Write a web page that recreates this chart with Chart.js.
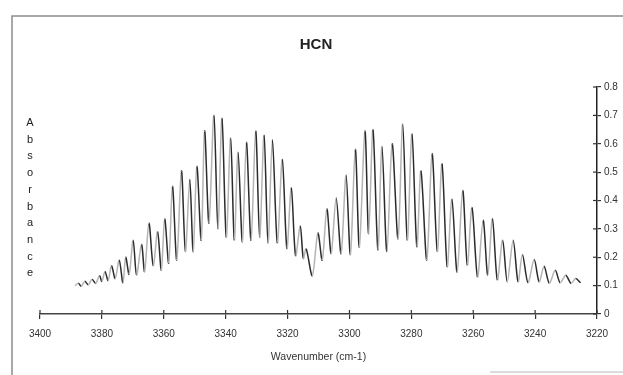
<!DOCTYPE html>
<html>
<head>
<meta charset="utf-8">
<script src="https://cdn.jsdelivr.net/npm/chart.js@4.4.1/dist/chart.umd.min.js"></script>
<style>
  html, body { margin: 0; padding: 0; background: #fff; }
  #wrap { position: relative; width: 623px; height: 375px; }
</style>
</head>
<body>
<div id="wrap"><canvas id="hcn" width="623" height="375"></canvas></div>
<script>
// spectre : pics et creux alternes
const wavenumbers = [
  3388.7, 3387.6, 3386.7, 3385.5, 3384.4, 3383.2, 3382.0, 3380.8, 3380.0, 3379.0,
  3378.0, 3376.9, 3375.7, 3374.4, 3373.2, 3372.3, 3371.2, 3369.9, 3368.8, 3367.2,
  3366.2, 3364.8, 3363.4, 3362.0, 3360.8, 3359.7, 3358.4, 3357.2, 3355.8, 3354.3,
  3353.0, 3351.6, 3350.5, 3349.3, 3347.9, 3346.8, 3345.4, 3343.8, 3342.5, 3341.2,
  3339.8, 3338.4, 3337.2, 3336.0, 3334.6, 3333.3, 3331.8, 3330.3, 3329.0, 3327.6,
  3326.3, 3324.9, 3323.3, 3321.7, 3320.2, 3318.8, 3317.4, 3315.9, 3314.9, 3314.0,
  3312.0, 3310.2, 3308.8, 3307.3, 3305.9, 3304.3, 3302.7, 3301.1, 3299.7, 3298.1,
  3296.8, 3295.0, 3293.8, 3292.4, 3290.8, 3289.5, 3287.9, 3286.2, 3284.3, 3282.8,
  3281.3, 3279.8, 3278.2, 3276.9, 3275.0, 3273.3, 3271.6, 3270.1, 3268.4, 3266.9,
  3265.2, 3263.4, 3261.9, 3260.4, 3258.6, 3256.8, 3255.3, 3253.8, 3252.2, 3250.5,
  3249.0, 3247.1, 3245.5, 3244.1, 3242.3, 3240.3, 3238.7, 3237.1, 3235.4, 3233.5,
  3231.9, 3230.1, 3228.4, 3226.9, 3225.3
];
const absorbance = [
  0.100, 0.108, 0.098, 0.115, 0.103, 0.122, 0.108, 0.135, 0.115, 0.150,
  0.118, 0.170, 0.125, 0.190, 0.110, 0.200, 0.140, 0.260, 0.137, 0.245,
  0.150, 0.320, 0.170, 0.290, 0.155, 0.335, 0.180, 0.450, 0.190, 0.505,
  0.220, 0.475, 0.220, 0.520, 0.260, 0.645, 0.320, 0.700, 0.300, 0.690,
  0.270, 0.620, 0.260, 0.570, 0.255, 0.605, 0.260, 0.645, 0.270, 0.630,
  0.250, 0.615, 0.250, 0.545, 0.230, 0.445, 0.205, 0.310, 0.195, 0.230,
  0.135, 0.285, 0.190, 0.370, 0.213, 0.410, 0.213, 0.490, 0.210, 0.580,
  0.236, 0.645, 0.283, 0.650, 0.225, 0.590, 0.220, 0.600, 0.265, 0.670,
  0.260, 0.635, 0.236, 0.505, 0.190, 0.565, 0.220, 0.530, 0.166, 0.405,
  0.148, 0.435, 0.172, 0.375, 0.130, 0.330, 0.137, 0.336, 0.120, 0.260,
  0.113, 0.260, 0.113, 0.210, 0.110, 0.192, 0.113, 0.168, 0.108, 0.154,
  0.110, 0.137, 0.108, 0.125, 0.110
];
const xTicks = [3400, 3380, 3360, 3340, 3320, 3300, 3280, 3260, 3240, 3220];
const yTicks = [0, 0.1, 0.2, 0.3, 0.4, 0.5, 0.6, 0.7, 0.8];
const lettresY = ['A', 'b', 's', 'o', 'r', 'b', 'a', 'n', 'c', 'e'];
const titre = 'HCN';

const points = wavenumbers.map((w, i) => ({ x: w, y: absorbance[i] }));

const cadre = {
  id: 'cadre',
  beforeDraw(chart) {
    const c = chart.ctx;
    c.save();
    c.strokeStyle = '#8c8c8c';
    c.lineWidth = 1.5;
    c.beginPath();
    c.moveTo(12, 375); c.lineTo(12, 16); c.lineTo(623, 16);
    c.stroke();
    c.strokeStyle = '#d0d0d0';
    c.beginPath();
    c.moveTo(490, 372); c.lineTo(623, 372);
    c.stroke();
    c.restore();
  },
  afterDraw(chart) {
    const c = chart.ctx;
    const sx = chart.scales.x, sy = chart.scales.y;
    c.save();
    c.strokeStyle = '#333';
    c.lineWidth = 1.2;
    xTicks.forEach(v => {
      const px = sx.getPixelForValue(v);
      c.beginPath(); c.moveTo(px, sy.bottom - 4); c.lineTo(px, sy.bottom); c.stroke();
    });
    yTicks.forEach(v => {
      const py = sy.getPixelForValue(v);
      c.beginPath(); c.moveTo(sx.right - 4, py); c.lineTo(sx.right, py); c.stroke();
    });
    c.fillStyle = '#222';
    c.textAlign = 'center';
    c.textBaseline = 'middle';
    c.font = 'bold 15px "Liberation Sans"';
    c.fillText(titre, 316, 45);
    c.font = '11px "Liberation Sans"';
    lettresY.forEach((l, i) => c.fillText(l, 30, 123 + i * 16.7));
    c.restore();
  }
};

new Chart(document.getElementById('hcn').getContext('2d'), {
  type: 'line',
  data: {
    datasets: [{
      label: 'HCN',
      data: points,
      borderWidth: 1.5,
      pointRadius: 0,
      tension: 0.3,
      borderColor: '#666',
      segment: {
        borderColor: ctx => ctx.p1.parsed.y > ctx.p0.parsed.y ? '#b4b4b4' : '#2b2b2b'
      }
    }]
  },
  options: {
    responsive: false,
    animation: false,
    layout: { padding: { top: 87, left: 40, right: 0, bottom: 0 } },
    plugins: {
      legend: { display: false },
      tooltip: { enabled: false },
      title: { display: false }
    },
    scales: {
      x: {
        type: 'linear',
        min: 3220,
        max: 3400,
        reverse: true,
        afterFit(scale) { scale.height = 61; },
        border: { color: '#444', width: 1.5 },
        grid: { drawOnChartArea: false, tickLength: 5, color: '#333', lineWidth: 1.2 },
        ticks: {
          stepSize: 20,
          padding: 9,
          color: '#333',
          maxRotation: 0,
          font: { family: 'Liberation Sans', size: 10 },
          callback: v => String(v)
        },
        title: {
          display: true,
          text: 'Wavenumber (cm-1)',
          color: '#333',
          font: { family: 'Liberation Sans', size: 10.5 },
          padding: { top: 0, bottom: 12 }
        }
      },
      y: {
        position: 'right',
        min: 0,
        max: 0.8,
        afterFit(scale) { scale.width = 26; },
        border: { color: '#222', width: 1.5 },
        grid: { drawOnChartArea: false, tickLength: 4, color: '#333', lineWidth: 1.2 },
        ticks: {
          stepSize: 0.1,
          padding: 3,
          color: '#333',
          font: { family: 'Liberation Sans', size: 10 },
          callback: v => v === 0 ? '0' : v.toFixed(1)
        }
      }
    }
  },
  plugins: [cadre]
});
</script>
</body>
</html>
